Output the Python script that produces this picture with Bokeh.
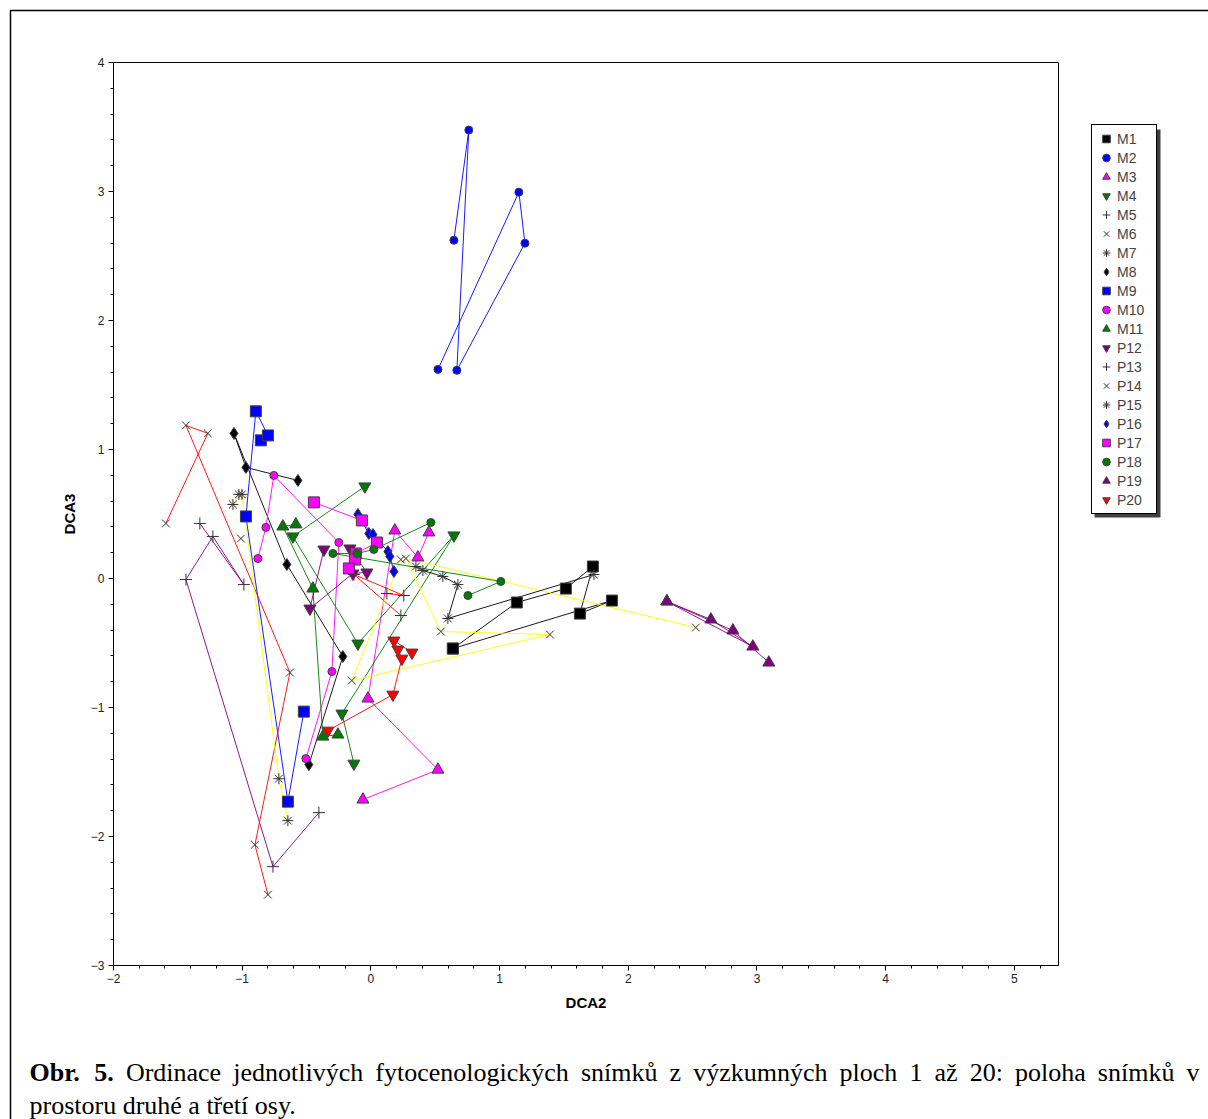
import math
from bokeh.plotting import figure
from bokeh.models import Legend, LegendItem, Label, BoxAnnotation, SingleIntervalTicker, Range1d
from bokeh.embed import file_html
from bokeh.resources import INLINE

NaN = float("nan")

# ---------------- data (DCA2, DCA3) ----------------
series_names = ["M1", "M2", "M3", "M4", "M5", "M6", "M7", "M8", "M9", "M10", "M11",
                "P12", "P13", "P14", "P15", "P16", "P17", "P18", "P19", "P20"]

M1_x = [0.637, 1.134, 1.515, 1.725, 1.624, 1.873, 0.637]
M1_y = [-0.543, -0.186, -0.078, 0.093, -0.272, -0.171, -0.543]
M2_x = [0.645, 0.761, 0.668, 1.197, 1.150, 0.521]
M2_y = [2.622, 3.476, 1.614, 2.599, 2.995, 1.621]
M3_x = [0.451, 0.365, 0.186, -0.023, 0.521, -0.062]
M3_y = [0.357, 0.163, 0.372, -0.931, -1.482, -1.714]
M4_x = [-0.047, -0.606, -0.101, 0.645, -0.225, -0.132]
M4_y = [0.714, 0.326, -0.504, 0.334, -1.047, -1.435]
M5_x = [0.124, 0.256, -0.132, 0.233]
M5_y = [-0.116, -0.132, 0.031, -0.287]
M6_x = [2.525, 0.272, 0.544, 1.391, -0.148, 0.233, NaN, -1.010]
M6_y = [-0.380, 0.155, -0.411, -0.434, -0.791, 0.147, NaN, 0.310]
M7_x = [0.350, 0.404, 0.559, 0.676, 0.598, 1.733]
M7_y = [0.093, 0.062, 0.016, -0.047, -0.310, 0.031]
M8_x = [-0.567, -0.971, -1.064, -0.653, -0.218, -0.482]
M8_y = [0.760, 0.861, 1.125, 0.109, -0.605, -1.443]
M9_x = [-0.855, -0.800, -0.894, -0.971, -0.645, -0.521]
M9_y = [1.071, 1.109, 1.296, 0.481, -1.730, -1.032]
M10_x = [-0.878, -0.816, -0.754, -0.249, -0.303, -0.505]
M10_y = [0.155, 0.396, 0.799, 0.279, -0.721, -1.396]
M11_x = [-0.583, -0.684, -0.451, -0.373, -0.256]
M11_y = [0.419, 0.403, -0.078, -1.226, -1.210]
P12_x = [-0.365, -0.474, -0.140, -0.031, -0.163]
P12_y = [0.225, -0.233, 0.039, 0.047, 0.233]
P13_x = [-1.329, -0.987, -1.228, -1.437, -0.761, -0.404]
P13_y = [0.427, -0.047, 0.326, -0.008, -2.234, -1.815]
P14_x = [-1.593, -1.267, -1.437, -0.629, -0.901, -0.800]
P14_y = [0.427, 1.125, 1.187, -0.729, -2.064, -2.451]
P15_x = [-1.072, -1.026, -1.002, -0.715, -0.645]
P15_y = [0.574, 0.652, 0.652, -1.552, -1.877]
P16_x = [-0.101, -0.016, 0.016, 0.132, 0.148, 0.179]
P16_y = [0.497, 0.349, 0.341, 0.209, 0.171, 0.054]
P17_x = [-0.443, -0.070, 0.047, -0.117, -0.124, -0.171]
P17_y = [0.590, 0.450, 0.279, 0.194, 0.147, 0.078]
P18_x = [0.466, 0.023, -0.109, -0.295, 1.010, 0.754]
P18_y = [0.434, 0.225, 0.194, 0.194, -0.023, -0.132]
P19_x = [2.300, 2.642, 2.968, 2.300, 2.813, 3.092]
P19_y = [-0.178, -0.318, -0.528, -0.178, -0.403, -0.652]
P20_x = [0.319, 0.179, 0.210, 0.241, 0.171, -0.334]
P20_y = [-0.574, -0.481, -0.551, -0.621, -0.900, -1.179]

x_axis_span = (-2.0, 5.343)
y_axis_span = (-3.0, 4.0)

data = {
    "M1": (M1_x, M1_y), "M2": (M2_x, M2_y), "M3": (M3_x, M3_y), "M4": (M4_x, M4_y),
    "M5": (M5_x, M5_y), "M6": (M6_x, M6_y), "M7": (M7_x, M7_y), "M8": (M8_x, M8_y),
    "M9": (M9_x, M9_y), "M10": (M10_x, M10_y), "M11": (M11_x, M11_y), "P12": (P12_x, P12_y),
    "P13": (P13_x, P13_y), "P14": (P14_x, P14_y), "P15": (P15_x, P15_y), "P16": (P16_x, P16_y),
    "P17": (P17_x, P17_y), "P18": (P18_x, P18_y), "P19": (P19_x, P19_y), "P20": (P20_x, P20_y),
}

# ---------------- styles ----------------
BLACK, BLUE, MAG, GREEN, RED, YEL, PUR = "#000000", "#0000FF", "#FF00FF", "#007A00", "#FF0000", "#FFFF00", "#800080"
style = {
    "M1": ("square", 11, BLACK, BLACK),
    "M2": ("circle", 8, BLUE, BLUE),
    "M3": ("triangle", 12, MAG, MAG),
    "M4": ("inverted_triangle", 12, GREEN, GREEN),
    "M5": ("cross", 12, None, RED),
    "M6": ("x", 11, None, YEL),
    "M7": ("asterisk", 11, None, BLACK),
    "M8": ("diamond", 12, BLACK, BLACK),
    "M9": ("square", 11, BLUE, BLUE),
    "M10": ("circle", 8, MAG, MAG),
    "M11": ("triangle", 12, GREEN, GREEN),
    "P12": ("inverted_triangle", 12, PUR, PUR),
    "P13": ("cross", 12, None, PUR),
    "P14": ("x", 11, None, RED),
    "P15": ("asterisk", 11, None, YEL),
    "P16": ("diamond", 12, BLUE, BLUE),
    "P17": ("square", 11, MAG, MAG),
    "P18": ("circle", 8, GREEN, GREEN),
    "P19": ("triangle", 12, PUR, PUR),
    "P20": ("inverted_triangle", 12, RED, RED),
}

# ---------------- page geometry (pixels) ----------------
W, H = 1208, 1119
FL, FR, FT, FB = 113, 1058, 62, 965          # plot box in pixels
UX = (FR - FL) / (x_axis_span[1] - x_axis_span[0])
UY = (FB - FT) / (y_axis_span[1] - y_axis_span[0])
XS = x_axis_span[0] - FL / UX
XE = XS + W / UX
YT = y_axis_span[1] + FT / UY
YB = YT - H / UY

def dx(px):
    return XS + px / UX

def dy(py):
    return YT - py / UY

p = figure(width=W, height=H, output_backend="svg", toolbar_location=None,
           x_range=Range1d(XS, XE), y_range=Range1d(YB, YT),
           min_border=0, min_border_left=0, min_border_right=0, min_border_top=0, min_border_bottom=0)
p.title.visible = False
p.background_fill_color = "white"
p.border_fill_color = "white"
p.outline_line_color = None
p.grid.visible = False

xa, ya = p.xaxis[0], p.yaxis[0]
xa.fixed_location = y_axis_span[0]
ya.fixed_location = x_axis_span[0]
xa.bounds = x_axis_span
ya.bounds = y_axis_span
for ax, lab in ((xa, "DCA2"), (ya, "DCA3")):
    ax.ticker = SingleIntervalTicker(interval=1, num_minor_ticks=5)
    ax.axis_label = lab
    ax.axis_label_text_font = "Liberation Sans"
    ax.axis_label_text_font_style = "bold"
    ax.axis_label_text_font_size = "15px"
    ax.axis_label_text_color = "black"
    ax.major_label_text_font = "Liberation Sans"
    ax.major_label_text_font_size = "12px"
    ax.major_label_text_color = "#222222"
    ax.major_tick_in = 0
    ax.major_tick_out = 5
    ax.minor_tick_in = 0
    ax.minor_tick_out = 3
    ax.axis_line_color = "black"
    ax.major_tick_line_color = "black"
    ax.minor_tick_line_color = "black"
xa.major_label_standoff = 3
xa.axis_label_standoff = 8
ya.major_label_standoff = 4
ya.axis_label_standoff = 10

# outer page frame (left and top visible)
p.add_layout(BoxAnnotation(left=dx(10), right=dx(1400), top=dy(10), bottom=dy(1400),
                           fill_alpha=0, line_color="black", line_alpha=1, line_width=1.5))
# plot box
p.add_layout(BoxAnnotation(left=x_axis_span[0], right=x_axis_span[1], top=y_axis_span[1], bottom=y_axis_span[0],
                           fill_alpha=0, line_color="black", line_alpha=1, line_width=1))

# series paths first
for name in series_names:
    xs, ys = data[name]
    p.line(xs, ys, line_color=style[name][3], line_width=1, line_alpha=0.9)

# markers
items = []
for name in series_names:
    xs, ys = data[name]
    mk, sz, fill, _ = style[name]
    if fill is None:
        r = p.scatter(xs, ys, marker=mk, size=sz, line_color="#333333", line_width=1)
    else:
        r = p.scatter(xs, ys, marker=mk, size=sz, fill_color=fill, line_color="#404040", line_width=1)
    items.append(LegendItem(label=name, renderers=[r]))

# legend shadow + legend
LG_L, LG_T, LG_H, LG_W = 1091, 126, 388, 66
p.add_layout(BoxAnnotation(left=dx(LG_L + 3), right=dx(LG_L + LG_W + 3),
                           top=dy(LG_T + 3), bottom=dy(LG_T + LG_H + 3),
                           fill_color="#404040", fill_alpha=1, line_alpha=0))
legend = Legend(items=items, location=(LG_L, H - (LG_T + LG_H)),
                border_line_color="black", border_line_width=1, border_line_alpha=1,
                background_fill_color="white", background_fill_alpha=1, padding=4, spacing=0, margin=0,
                glyph_width=20, glyph_height=19, label_height=19, label_width=35, label_standoff=1,
                label_text_font="Liberation Sans", label_text_font_size="14px")
p.add_layout(legend)

# caption (justified first line)
reg = {' ': 250, '.': 250, ':': 278, '0': 500, '1': 500, '2': 500, '5': 500, 'a': 444, 'c': 444, 'd': 500,
       'e': 444, 'f': 333, 'g': 500, 'h': 500, 'i': 278, 'j': 278, 'k': 500, 'l': 278, 'm': 778, 'n': 500,
       'o': 500, 'p': 500, 'r': 333, 's': 389, 't': 278, 'u': 500, 'v': 500, 'y': 500, 'z': 444, 'O': 722,
       'á': 444, 'é': 444, 'í': 278, 'ý': 500, 'ů': 500, 'ž': 444, 'ř': 333}
bold = {'O': 778, 'b': 556, 'r': 444, '.': 250, '5': 500, ' ': 250}
FS = 26
caption1 = [("Obr.", True), ("5.", True), ("Ordinace", False), ("jednotlivých", False),
            ("fytocenologických", False), ("snímků", False), ("z", False), ("výzkumných", False),
            ("ploch", False), ("1", False), ("až", False), ("20:", False), ("poloha", False),
            ("snímků", False), ("v", False)]
caption2 = "prostoru druhé a třetí osy."

def wid(word, b):
    tab = bold if b else reg
    return sum(tab.get(c, 500) for c in word) * FS / 1000.0

X0, X1 = 29, 1199
total = sum(wid(w, b) for w, b in caption1)
gap = (X1 - X0 - total) / (len(caption1) - 1)
xc = X0
for w, b in caption1:
    p.add_layout(Label(x=dx(xc), y=dy(1072), text=w,
                       text_font="Liberation Serif", text_font_size=f"{FS}px",
                       text_font_style="bold" if b else "normal", text_baseline="middle",
                       text_align="left", text_color="black"))
    xc += wid(w, b) + gap
p.add_layout(Label(x=dx(X0), y=dy(1105), text=caption2,
                   text_font="Liberation Serif", text_font_size=f"{FS}px", text_baseline="middle",
                   text_align="left", text_color="black"))

open("out.html", "w").write(file_html(p, INLINE))
